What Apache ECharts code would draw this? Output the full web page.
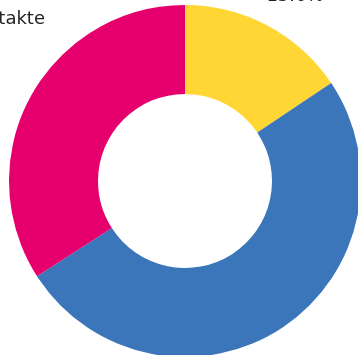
<!DOCTYPE html>
<html>
<head>
<meta charset="utf-8">
<script src="https://cdn.jsdelivr.net/npm/echarts@6/dist/echarts.min.js"></script>
<style>html,body{margin:0;padding:0;background:#fff}#c{width:358px;height:355px}</style>
</head>
<body>
<div id="c"></div>
<script>
var categories = ['Neukunden', 'Bestandskunden', 'Kontakte'];
var values = [15.6, 50.3, 34.1];

var chart = echarts.init(document.getElementById('c'), null, {renderer: 'canvas'});
var labelPos = {
  0: {x: 295, y: 5, align: 'center', verticalAlign: 'bottom'},
  1: {x: 420, y: 420, align: 'left', verticalAlign: 'top'},
  2: {x: 45, y: 19, align: 'right', verticalAlign: 'middle'}
};
chart.setOption({
  animation: false,
  color: ['#FFD633', '#3B76BB', '#E6006E'],
  series: [{
    type: 'pie',
    center: [185, 181],
    radius: [87, 176],
    startAngle: 90,
    clockwise: true,
    avoidLabelOverlap: false,
    itemStyle: {borderWidth: 0},
    label: {
      show: true,
      color: '#222',
      fontSize: 18,
      fontFamily: 'DejaVu Sans',
      formatter: function (p) {
        if (p.dataIndex === 2) return p.name;
        return p.percent.toFixed(1) + '%';
      }
    },
    labelLine: {show: false},
    labelLayout: function (params) {
      return labelPos[params.dataIndex];
    },
    data: categories.map(function (c, i) { return {name: c, value: values[i]}; })
  }]
});
</script>
</body>
</html>
